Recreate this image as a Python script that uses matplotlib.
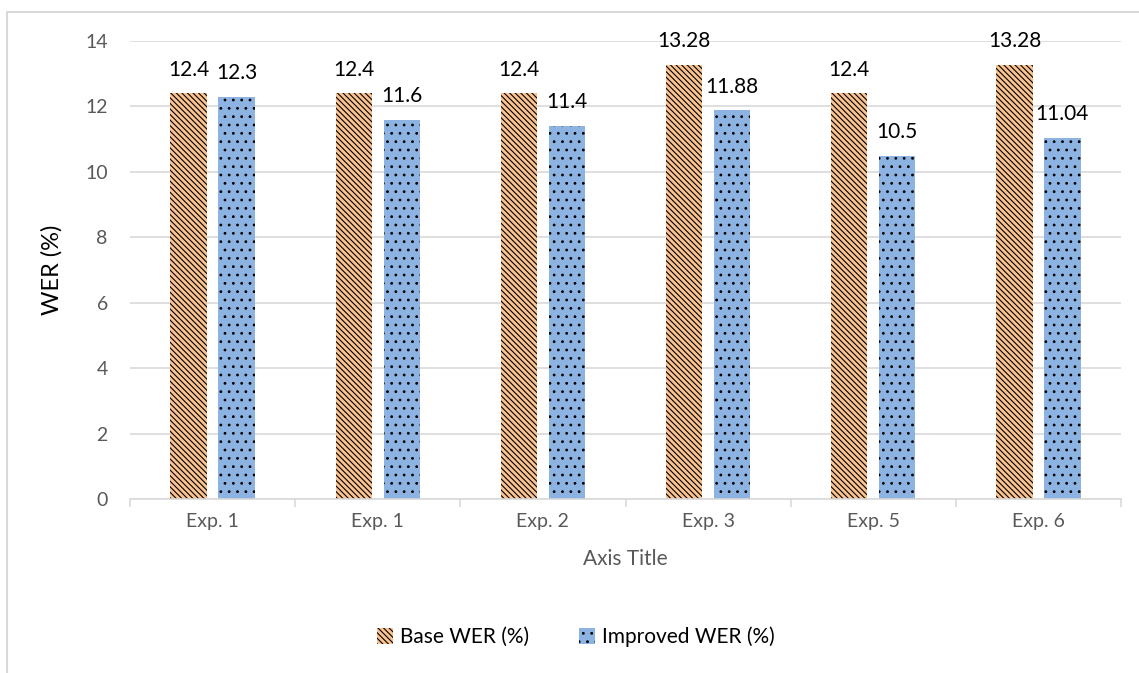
import matplotlib.pyplot as plt
import matplotlib as mpl
from matplotlib.lines import Line2D
import numpy as np

categories = ["Exp. 1", "Exp. 1", "Exp. 2", "Exp. 3", "Exp. 5", "Exp. 6"]
base_wer = [12.4, 12.4, 12.4, 13.28, 12.4, 13.28]
improved_wer = [12.3, 11.6, 11.4, 11.88, 10.5, 11.04]
base_labels = ["12.4", "12.4", "12.4", "13.28", "12.4", "13.28"]
improved_labels = ["12.3", "11.6", "11.4", "11.88", "10.5", "11.04"]
series_names = ["Base WER (%)", "Improved WER (%)"]

plt.rcParams['font.family'] = ['Lato', 'DejaVu Sans']
mpl.rcParams['hatch.color'] = 'black'
mpl.rcParams['hatch.linewidth'] = 0.8

W, H = 1139, 673
fig = plt.figure(figsize=(W / 100, H / 100), dpi=100)
ax = fig.add_axes([130 / W, 1 - 499 / H, (1121 - 130) / W, (499 - 41) / H])

x = np.arange(len(categories))
bw = 0.22
off = 0.145
orange = "#FAC390"
blue = "#8DB3E2"

b1 = ax.bar(x - off, base_wer, bw, color=orange, hatch="\\" * 6, edgecolor=orange,
            linewidth=0, label=series_names[0])
b2 = ax.bar(x + off, improved_wer, bw, color=blue, hatch="..", edgecolor=blue,
            linewidth=0, label=series_names[1])
for bars in (b1, b2):
    for p in bars:
        p._hatch_color = mpl.colors.to_rgba("black")

for xi, v, t in zip(x - off, base_wer, base_labels):
    ax.text(xi, v + 0.42, t, ha="center", va="bottom", fontsize=15, color="black")
for xi, v, t in zip(x + off, improved_wer, improved_labels):
    ax.text(xi, v + 0.42, t, ha="center", va="bottom", fontsize=15, color="black")

ax.set_xlim(-0.5, len(categories) - 0.5)
ax.set_ylim(0, 14)
ax.set_yticks(np.arange(0, 15, 2))
ax.yaxis.grid(True, color="#D9D9D9", linewidth=1.2)
ax.set_axisbelow(True)
for s in ("top", "right", "left"):
    ax.spines[s].set_visible(False)
ax.spines["bottom"].set_color("#D9D9D9")
ax.spines["bottom"].set_linewidth(1.2)

ax.set_xticks(x)
ax.set_xticklabels(categories)
ax.set_xticks(np.arange(-0.5, len(categories), 1), minor=True)
ax.tick_params(axis="x", which="major", length=0, pad=10, labelsize=14, labelcolor="#595959")
ax.tick_params(axis="x", which="minor", length=6, color="#D9D9D9", width=1.2)
ax.tick_params(axis="y", length=0, pad=16, labelsize=14, labelcolor="#595959")

ax.set_xlabel("Axis Title", fontsize=15, color="#595959", labelpad=14)
ax.set_ylabel("WER (%)", fontsize=17, color="black", labelpad=16)

leg = fig.legend(handles=[b1, b2], labels=series_names, loc="center",
                 bbox_to_anchor=(576 / W, 1 - 637 / H), ncol=2, frameon=False,
                 fontsize=15, handlelength=0.75, handleheight=0.75, columnspacing=2.4,
                 handletextpad=0.35)

# chart frame
fig.add_artist(Line2D([7 / W, 7 / W, 1.0], [0.0, 1 - 12 / H, 1 - 12 / H],
                      transform=fig.transFigure, color="#D9D9D9", linewidth=1.5))

fig.savefig("out.png", dpi=100)
